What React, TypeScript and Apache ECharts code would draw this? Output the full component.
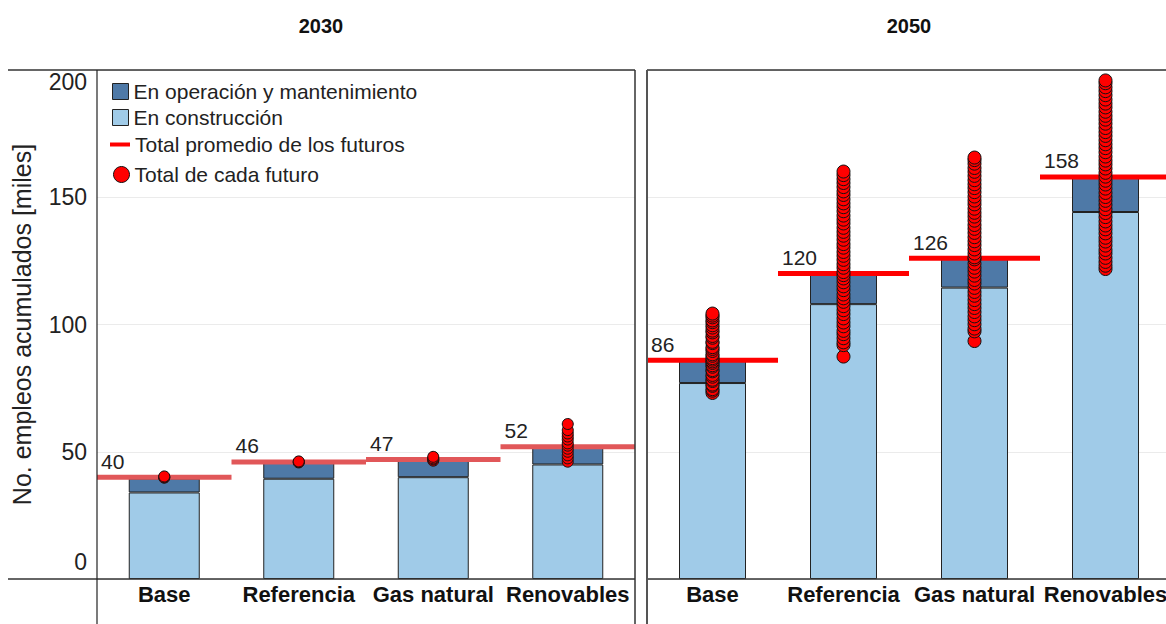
import React, { useEffect, useRef } from "react";
import * as echarts from "echarts";

const categories = ["Base", "Referencia", "Gas natural", "Renovables"];
const years = ["2030", "2050"];
const yTicks = [0, 50, 100, 150, 200];

const construction2030 = [34, 39.4, 40, 45];
const operation2030 = [5.5, 6.6, 7, 6.5];
const mean2030 = [40, 46, 47, 52];

const construction2050 = [77, 108, 114.5, 144.2];
const operation2050 = [9, 12, 12, 13.5];
const mean2050 = [86, 120, 126, 158];

const base2030Dots = [39.8, 40.0, 40.3];
const ref2030Dots = [45.8, 46.0, 46.2];
const gas2030Dots = [46.5, 47.0, 47.4, 48.0];
const ren2030Dots = [46.1, 47.4, 48.6, 50.0, 51.2, 52.4, 53.3, 54.8, 56.0, 57.2, 58.5, 60.9];

const base2050Dots = [73.1, 74.0, 74.6, 75.9, 76.4, 77.8, 78.3, 79.5, 80.2, 81.6, 82.1, 83.4, 84.0, 84.9, 85.5, 86.2, 86.8, 87.7, 88.3, 89.6, 90.4, 91.1, 92.7, 93.2, 94.8, 95.5, 96.9, 97.6, 98.8, 99.7, 100.9, 101.6, 102.8, 103.5, 104.3];
const ref2050Dots = [87.4, 91.9, 93.0, 94.6, 96.2, 97.5, 99.3, 100.8, 102.4, 104.1, 105.6, 107.2, 108.9, 110.3, 111.8, 113.5, 115.0, 116.6, 118.1, 119.4, 120.6, 122.3, 123.7, 125.4, 127.0, 128.5, 130.2, 131.6, 133.3, 134.9, 136.4, 138.0, 139.7, 141.2, 142.8, 144.5, 146.1, 147.6, 149.2, 150.9, 152.3, 154.0, 155.6, 157.1, 158.7, 160.1];
const gas2050Dots = [93.5, 97.3, 98.4, 100.1, 101.7, 103.2, 104.9, 106.5, 108.0, 109.6, 111.3, 112.8, 114.4, 116.1, 117.5, 119.2, 120.8, 122.3, 123.9, 125.6, 126.4, 127.9, 129.5, 131.2, 132.7, 134.3, 136.0, 137.6, 139.1, 140.8, 142.4, 143.9, 145.5, 147.2, 148.7, 150.3, 152.0, 153.6, 155.1, 156.7, 158.4, 160.0, 161.5, 163.2, 164.6, 165.6];
const ren2050Dots = [121.8, 123.1, 124.6, 126.2, 127.9, 129.3, 131.0, 132.6, 134.1, 135.8, 137.4, 138.9, 140.5, 142.2, 143.8, 145.3, 147.0, 148.6, 150.1, 151.7, 153.4, 155.0, 156.5, 158.1, 159.6, 161.3, 162.9, 164.4, 166.0, 167.7, 169.3, 170.8, 172.4, 174.1, 175.6, 177.2, 178.9, 180.5, 182.0, 183.6, 185.3, 186.8, 188.4, 190.1, 191.7, 193.2, 194.8, 195.9];

const dots2030 = [base2030Dots, ref2030Dots, gas2030Dots, ren2030Dots];
const dots2050 = [base2050Dots, ref2050Dots, gas2050Dots, ren2050Dots];

const NAME_OM = "En operación y mantenimiento";
const NAME_CON = "En construcción";
const NAME_MEAN = "Total promedio de los futuros";
const NAME_DOT = "Total de cada futuro";

const FONT = "'Liberation Sans', Arial, sans-serif";
const C_LIGHT = "#a0cbe8";
const C_DARK = "#4e79a7";

function flattenDots(groups: number[][]) {
  const out: [string, number][] = [];
  groups.forEach((g, i) => g.forEach((v) => out.push([categories[i], v])));
  return out;
}

export default function App() {
  const ref = useRef<HTMLDivElement>(null);
  useEffect(() => {
    if (!ref.current) return;
    const chart = echarts.init(ref.current, null, { renderer: "svg" });

    const panels = [
      { left: 97, width: 538, barWidth: 71, band: 134.5, dot: 11, lineColor: "#e15759", con: construction2030, om: operation2030, mean: mean2030, dots: dots2030 },
      { left: 647, width: 524, barWidth: 67, band: 131, dot: 13, lineColor: "#ff0000", con: construction2050, om: operation2050, mean: mean2050, dots: dots2050 },
    ];

    const series: any[] = [];
    panels.forEach((p, i) => {
      series.push({
        name: NAME_CON, type: "bar", xAxisIndex: i, yAxisIndex: i, stack: "s" + i,
        barWidth: p.barWidth, data: p.con, z: 2,
        itemStyle: { color: C_LIGHT, borderColor: "#222", borderWidth: 1 },
      });
      series.push({
        name: NAME_OM, type: "bar", xAxisIndex: i, yAxisIndex: i, stack: "s" + i,
        barWidth: p.barWidth, data: p.om, z: 2,
        itemStyle: { color: C_DARK, borderColor: "#222", borderWidth: 1 },
      });
      series.push({
        name: NAME_MEAN, type: "scatter", xAxisIndex: i, yAxisIndex: i,
        symbol: "rect", symbolSize: [p.band, 5], z: 3,
        data: p.mean.map((v, k) => [categories[k], v]),
        itemStyle: { color: p.lineColor, opacity: 1 },
        label: {
          show: true, position: [4, -24], color: "#222", fontSize: 21, fontFamily: FONT,
          formatter: (d: any) => String(Math.round(d.value[1])),
        },
      });
      series.push({
        name: NAME_DOT, type: "scatter", xAxisIndex: i, yAxisIndex: i,
        symbol: "circle", symbolSize: p.dot, z: 4,
        data: flattenDots(p.dots),
        itemStyle: { color: "#ff0000", borderColor: "#111", borderWidth: 1, opacity: 1 },
      });
    });

    const lineStyle = { stroke: "#333", lineWidth: 1.5 };
    const mkLine = (x1: number, y1: number, x2: number, y2: number, extra: any = {}) => ({
      type: "line", shape: { x1, y1, x2, y2 }, style: { ...lineStyle, ...extra }, z: 10, silent: true,
    });

    const legendBase = {
      orient: "vertical", itemGap: 0, selectedMode: false, padding: 0,
      textStyle: { fontSize: 21, color: "#222", fontFamily: FONT },
    };

    chart.setOption({
      animation: false,
      backgroundColor: "#fff",
      textStyle: { fontFamily: FONT },
      title: [
        { text: years[0], left: 321, top: 16, padding: 0, textAlign: "center", textStyle: { fontSize: 20, fontWeight: "bold", color: "#111", fontFamily: FONT } },
        { text: years[1], left: 909, top: 16, padding: 0, textAlign: "center", textStyle: { fontSize: 20, fontWeight: "bold", color: "#111", fontFamily: FONT } },
      ],
      legend: [
        { ...legendBase, left: 112, top: 81, itemWidth: 16, itemHeight: 16,
          data: [{ name: NAME_OM, icon: "rect", itemStyle: { color: C_DARK, borderColor: "#222", borderWidth: 1 } }] },
        { ...legendBase, left: 112, top: 107, itemWidth: 16, itemHeight: 16,
          data: [{ name: NAME_CON, icon: "rect", itemStyle: { color: C_LIGHT, borderColor: "#222", borderWidth: 1 } }] },
        { ...legendBase, left: 110, top: 134, itemWidth: 20, itemHeight: 4,
          data: [{ name: NAME_MEAN, icon: "rect", itemStyle: { color: "#ff0000", borderWidth: 0 } }] },
        { ...legendBase, left: 113, top: 164, itemWidth: 16, itemHeight: 16,
          data: [{ name: NAME_DOT, icon: "circle", itemStyle: { color: "#ff0000", borderColor: "#111", borderWidth: 1 } }] },
      ],
      grid: panels.map((p) => ({ left: p.left, top: 70, width: p.width, height: 509, containLabel: false })),
      xAxis: panels.map((_, i) => ({
        type: "category", gridIndex: i, data: categories,
        axisLine: { show: false }, axisTick: { show: false },
        axisLabel: { show: true, interval: 0, fontSize: 22, fontWeight: "bold", color: "#111", margin: 4, fontFamily: FONT },
      })),
      yAxis: panels.map((_, i) => ({
        type: "value", gridIndex: i, min: yTicks[0], max: yTicks[yTicks.length - 1], interval: 50,
        name: i === 0 ? "No. empleos acumulados [miles]" : "",
        nameLocation: "middle", nameRotate: 90, nameGap: 63,
        nameTextStyle: { fontSize: 25, color: "#222", fontFamily: FONT },
        axisLine: { show: false }, axisTick: { show: false },
        splitLine: { show: true, lineStyle: { color: "#ebebeb", width: 1 } },
        axisLabel: {
          show: i === 0, fontSize: 23, color: "#222", margin: 10, fontFamily: FONT,
          verticalAlignMinLabel: "bottom", verticalAlignMaxLabel: "top",
          formatter: (v: number) => (v === yTicks[0] ? "{z|" + v + "}" : String(v)),
          rich: { z: { fontSize: 23, color: "#222", fontFamily: FONT, padding: [0, 0, 6, 0] } },
        },
      })),
      graphic: [
        mkLine(8, 70, 635, 70),
        mkLine(647, 70, 1180, 70),
        mkLine(8, 579, 635, 579),
        mkLine(647, 579, 1180, 579),
        mkLine(97, 70, 97, 624, { stroke: "#222", lineWidth: 1.2 }),
        mkLine(635, 70, 635, 624),
        mkLine(647, 70, 647, 624, { stroke: "#555", lineWidth: 2 }),
      ],
      series,
    });

    return () => chart.dispose();
  }, []);

  return (
    <div style={{ position: "absolute", left: 0, top: 0, width: 1166, height: 624, overflow: "hidden" }}>
      <div ref={ref} style={{ width: 1180, height: 624 }} />
    </div>
  );
}
